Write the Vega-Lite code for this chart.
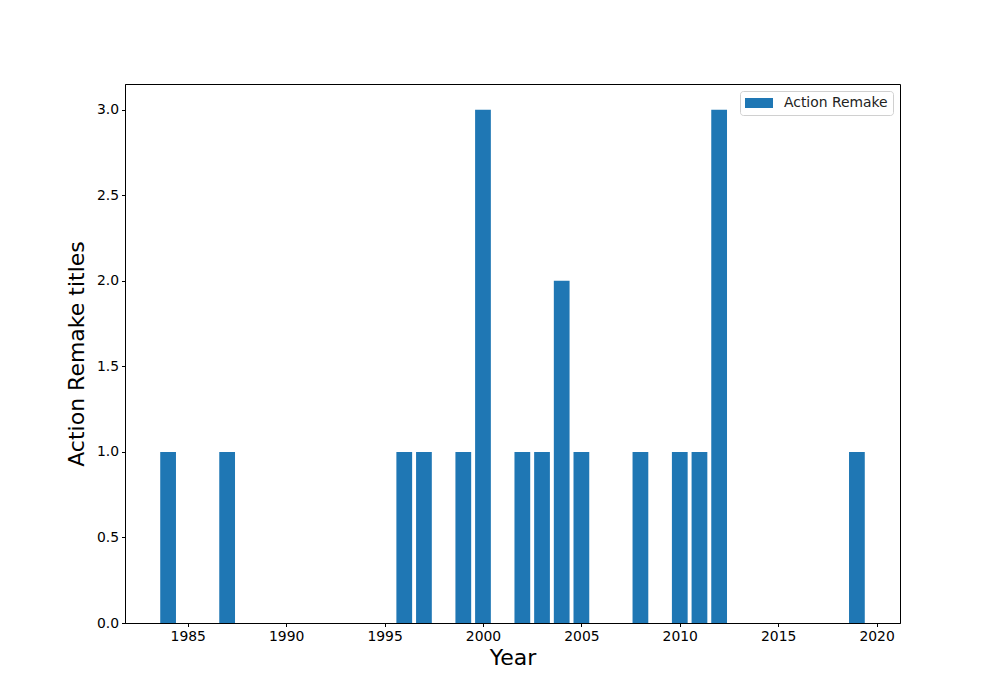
{
  "$schema": "https://vega.github.io/schema/vega-lite/v6.json",
  "width": 775,
  "height": 539,
  "autosize": {"type": "none"},
  "padding": {"left": 125, "top": 84, "right": 100, "bottom": 77},
  "background": "white",
  "data": {
    "values": [
      {"year": 1984, "count": 1},
      {"year": 1987, "count": 1},
      {"year": 1996, "count": 1},
      {"year": 1997, "count": 1},
      {"year": 1999, "count": 1},
      {"year": 2000, "count": 3},
      {"year": 2002, "count": 1},
      {"year": 2003, "count": 1},
      {"year": 2004, "count": 2},
      {"year": 2005, "count": 1},
      {"year": 2008, "count": 1},
      {"year": 2010, "count": 1},
      {"year": 2011, "count": 1},
      {"year": 2012, "count": 3},
      {"year": 2019, "count": 1}
    ]
  },
  "mark": {"type": "bar", "size": 15.75, "orient": "vertical"},
  "encoding": {
    "x": {
      "field": "year",
      "type": "quantitative",
      "scale": {"domain": [1981.81, 2021.19], "nice": false, "zero": false, "padding": 0},
      "axis": {
        "title": "Year",
        "values": [1985, 1990, 1995, 2000, 2005, 2010, 2015, 2020],
        "format": "d",
        "grid": false,
        "titleFontSize": 22,
        "titlePadding": 4
      }
    },
    "y": {
      "field": "count",
      "type": "quantitative",
      "scale": {"domain": [0, 3.15], "nice": false, "padding": 0},
      "axis": {
        "title": "Action Remake titles",
        "values": [0, 0.5, 1, 1.5, 2, 2.5, 3],
        "format": ".1f",
        "grid": false,
        "titleFontSize": 22,
        "titlePadding": 8
      }
    },
    "color": {
      "datum": "Action Remake",
      "type": "nominal",
      "scale": {"range": ["#1f77b4"]},
      "legend": {
        "title": null,
        "orient": "top-right",
        "offset": 7,
        "symbolType": "M-2,-0.714H2V0.714H-2Z",
        "symbolSize": 196,
        "symbolOffset": 7,
        "labelFontSize": 13.9,
        "labelColor": "#222",
        "labelOffset": 18,
        "strokeColor": "#d0d0d0",
        "cornerRadius": 3,
        "padding": 5,
        "fillColor": "white",
        "symbolStrokeWidth": 0
      }
    }
  },
  "config": {
    "font": "DejaVu Sans",
    "view": {"stroke": "black", "strokeWidth": 1},
    "axis": {
      "domainColor": "black",
      "tickColor": "black",
      "tickSize": 3.5,
      "labelFontSize": 13.9,
      "labelColor": "black",
      "labelPadding": 3,
      "titleColor": "black",
      "titleFontWeight": "normal",
      "labelFont": "DejaVu Sans",
      "titleFont": "DejaVu Sans"
    }
  }
}
